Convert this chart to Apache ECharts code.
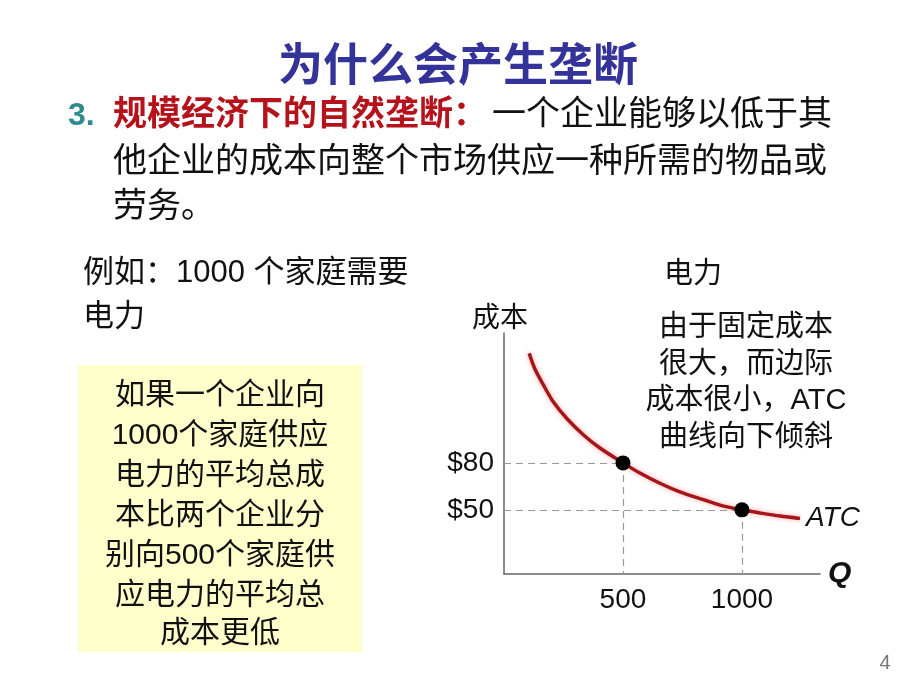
<!DOCTYPE html>
<html><head><meta charset="utf-8">
<script src="https://cdn.jsdelivr.net/npm/echarts@6/dist/echarts.min.js"></script>
<style>html,body{margin:0;padding:0;background:#fff}#c{width:920px;height:690px}</style>
</head><body><div id="c"></div>
<script>
// ---- data ----
const qPoints  = [106, 130, 165, 207, 263, 333, 403, 500, 571, 655, 739, 837, 908, 1000, 1076, 1160, 1244];
const atcCost  = [150, 140, 130, 119, 108.5, 98, 89.5, 80, 73.5, 67, 61.5, 56.5, 53, 50, 48, 46, 44.5];
const markedQ    = [500, 1000];
const markedCost = [80, 50];
const xTickValues = [500, 1000];
const yTickValues = [50, 80];
const curveName = 'ATC';

const FF = '"Liberation Sans","Noto Sans CJK SC",sans-serif';
function txt(text, x, y, size, fill, align, extra) {
  return { type: 'text', x: x, y: y + 3, style: {
    text: text, font: (extra || '') + ' ' + size + 'px ' + FF, fill: fill,
    align: align || 'left', verticalAlign: 'middle' } };
}

const curveData = qPoints.map((q, i) => [q, atcCost[i]]);
const dotData = markedQ.map((q, i) => [q, markedCost[i]]);
const yMin = 9;
const guideLines = [];
markedQ.forEach((q, i) => {
  guideLines.push([{ coord: [0, markedCost[i]] }, { coord: [q, markedCost[i]] }]);
  guideLines.push([{ coord: [q, markedCost[i]] }, { coord: [q, yMin] }]);
});

const chart = echarts.init(document.getElementById('c'), null, { renderer: 'canvas' });
chart.setOption({
  animation: false,
  backgroundColor: '#ffffff',
  grid: { left: 504, top: 333, width: 316, height: 241, containLabel: false },
  xAxis: {
    type: 'value', min: 0, max: 1328,
    name: 'Q', nameLocation: 'end', nameGap: 8,
    nameTextStyle: { fontFamily: FF, fontSize: 30, fontWeight: 'bold', fontStyle: 'italic', color: '#111' },
    axisLine: { show: true, lineStyle: { color: '#666', width: 1.5 } },
    axisTick: { show: false },
    splitLine: { show: false },
    axisLabel: { customValues: xTickValues, formatter: (v) => String(v), fontFamily: FF, fontSize: 28, color: '#111', margin: 12 }
  },
  yAxis: {
    type: 'value', min: yMin, max: 163,
    name: '成本', nameLocation: 'end', nameGap: 0,
    nameTextStyle: { fontFamily: FF, fontSize: 28, color: '#111', padding: [0, 8, 0, 0] },
    axisLine: { show: true, lineStyle: { color: '#666', width: 1.5 } },
    axisTick: { show: false },
    splitLine: { show: false },
    axisLabel: { customValues: yTickValues, formatter: (v) => '$' + v, fontFamily: FF, fontSize: 28, color: '#111', margin: 10 }
  },
  series: [
    {
      name: curveName, type: 'line', data: curveData, smooth: 0.3, symbol: 'none',
      lineStyle: { color: '#a3161a', width: 3.5, shadowColor: 'rgba(255,90,90,0.55)', shadowBlur: 5 },
      endLabel: { show: true, formatter: curveName, fontFamily: FF, fontSize: 28, fontStyle: 'italic', color: '#111', distance: 6 },
      markLine: {
        silent: true, symbol: 'none', label: { show: false },
        lineStyle: { color: '#999', type: [7, 5], width: 1.2 },
        data: guideLines
      },
      z: 3
    },
    {
      type: 'scatter', data: dotData, symbol: 'circle', symbolSize: 15,
      itemStyle: { color: '#000', opacity: 1 }, z: 5
    }
  ],
  graphic: [
    txt('为什么会产生垄断', 458, 66, 45, '#333399', 'center', 'bold'),
    txt('3.', 68, 113, 32, '#2e8b8b', 'left', 'bold'),
    txt('规模经济下的自然垄断：', 113, 113, 34, '#b5121b', 'left', 'bold'),
    txt('一个企业能够以低于其', 492, 113, 34, '#111', 'left'),
    txt('他企业的成本向整个市场供应一种所需的物品或', 113, 160, 34, '#111', 'left'),
    txt('劳务。', 113, 205, 34, '#111', 'left'),
    txt('例如：1000 个家庭需要', 83, 270, 31, '#111', 'left'),
    txt('电力', 83, 314, 31, '#111', 'left'),
    txt('电力', 693, 272, 29, '#111', 'center'),
    { type: 'rect', shape: { x: 78, y: 365, width: 284, height: 287 }, style: { fill: '#ffffcc' }, z: -1 },
    txt('如果一个企业向', 220, 393, 30, '#111', 'center'),
    txt('1000个家庭供应', 220, 433, 30, '#111', 'center'),
    txt('电力的平均总成', 220, 473, 30, '#111', 'center'),
    txt('本比两个企业分', 220, 513, 30, '#111', 'center'),
    txt('别向500个家庭供', 220, 553, 30, '#111', 'center'),
    txt('应电力的平均总', 220, 593, 30, '#111', 'center'),
    txt('成本更低', 220, 631, 30, '#111', 'center'),
    txt('由于固定成本', 746, 325, 29, '#111', 'center'),
    txt('很大，而边际', 746, 362, 29, '#111', 'center'),
    txt('成本很小，ATC', 746, 398, 29, '#111', 'center'),
    txt('曲线向下倾斜', 746, 435, 29, '#111', 'center'),
    txt('4', 885, 660, 20, '#777', 'center')
  ]
});
</script></body></html>
